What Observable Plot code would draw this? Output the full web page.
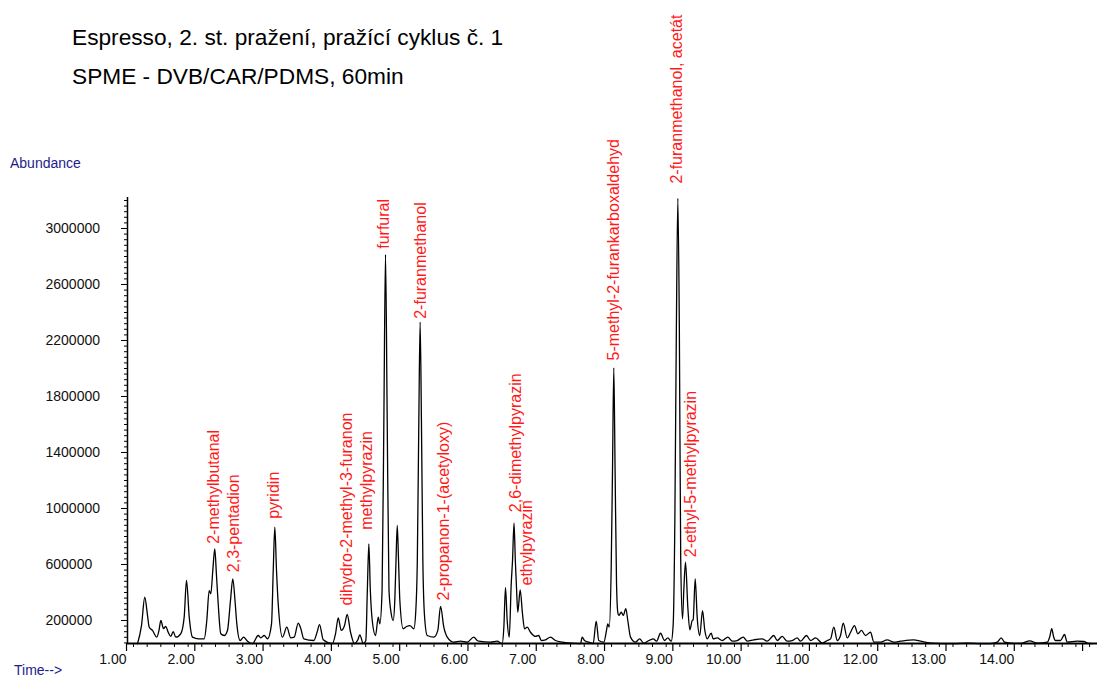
<!DOCTYPE html>
<html><head><meta charset="utf-8">
<script src="https://cdn.jsdelivr.net/npm/d3@7"></script>
<script src="https://cdn.jsdelivr.net/npm/@observablehq/plot@0.6"></script>
<style>
body{margin:0;background:#fff;font-family:"Liberation Sans",Arial,sans-serif;}
#wrap{position:relative;width:1097px;height:677px;overflow:hidden;background:#fff;}
#chart{position:absolute;left:0;top:0;}
.t{position:absolute;white-space:nowrap;line-height:1;}
</style></head><body>
<div id="wrap">
<div id="chart"></div>
<div class="t" style="left:72px;top:26px;font-size:22.7px;color:#000;">Espresso, 2. st. pražení, pražící cyklus č. 1</div>
<div class="t" style="left:72px;top:65px;font-size:22.7px;color:#000;">SPME - DVB/CAR/PDMS, 60min</div>
<div class="t" style="left:10px;top:156px;font-size:14px;color:#1c1c8c;">Abundance</div>
<div class="t" style="left:14px;top:663px;font-size:14px;color:#1c1c8c;">Time--&gt;</div>
</div>
<script>
// Chromatogram trace: [time (min), abundance]
const trace = [
[1.059,35000],[1.117,164000],[1.165,366000],[1.205,236000],[1.230,152000],[1.278,129000],[1.341,81000],[1.373,129000],[1.400,200000],[1.439,143000],
[1.473,157000],[1.508,116000],[1.546,86000],[1.581,121000],[1.619,81000],[1.693,107000],[1.742,224000],[1.776,486000],[1.816,224000],[1.864,81000],
[1.952,69000],[2.035,69000],[2.073,200000],[2.108,414000],[2.132,391000],[2.161,557000],[2.190,712000],[2.215,521000],[2.240,321000],[2.278,105000],
[2.328,93000],[2.376,129000],[2.420,343000],[2.454,498000],[2.486,343000],[2.513,176000],[2.562,57000],[2.611,81000],[2.669,52000],[2.743,35000],
[2.826,93000],[2.864,76000],[2.914,93000],[2.962,69000],[3.021,176000],[3.046,557000],[3.069,866000],[3.094,557000],[3.119,319000],[3.182,81000],
[3.245,152000],[3.303,76000],[3.353,81000],[3.412,181000],[3.445,150000],[3.494,69000],[3.640,57000],[3.687,114000],[3.724,171000],[3.778,62000],
[3.910,35000],[3.958,105000],[3.998,219000],[4.042,129000],[4.090,164000],[4.129,243000],[4.178,116000],[4.236,35000],[4.285,62000],[4.314,98000],
[4.364,35000],[4.402,57000],[4.424,414000],[4.446,748000],[4.468,414000],[4.496,200000],[4.544,93000],[4.584,224000],[4.607,176000],[4.640,414000],
[4.666,1629000],[4.690,2814000],[4.715,1629000],[4.741,414000],[4.774,248000],[4.803,200000],[4.826,343000],[4.844,629000],[4.862,879000],[4.881,629000],
[4.900,343000],[4.949,141000],[4.998,157000],[5.046,164000],[5.105,141000],[5.134,271000],[5.156,629000],[5.178,1629000],[5.197,2331000],[5.216,1629000],
[5.237,629000],[5.261,236000],[5.301,93000],[5.398,81000],[5.456,129000],[5.496,300000],[5.544,152000],[5.594,81000],[5.690,45000],[5.788,52000],
[5.886,45000],[5.983,81000],[6.033,57000],[6.056,52000],[6.228,45000],[6.326,52000],[6.399,35000],[6.423,152000],[6.447,434000],[6.472,200000],
[6.502,81000],[6.531,462000],[6.550,629000],[6.572,895000],[6.591,629000],[6.608,438000],[6.627,259000],[6.662,419000],[6.696,248000],[6.726,141000],
[6.765,152000],[6.813,116000],[6.887,86000],[6.935,93000],[6.970,57000],[7.033,62000],[7.106,81000],[7.179,57000],[7.278,45000],[7.399,38000],
[7.546,35000],[7.570,81000],[7.604,57000],[7.667,45000],[7.731,35000],[7.775,195000],[7.813,57000],[7.887,45000],[7.926,129000],[7.945,176000],
[7.966,152000],[7.995,581000],[8.014,1271000],[8.033,2005000],[8.052,1271000],[8.073,464000],[8.092,257000],[8.107,236000],[8.142,259000],[8.171,236000],
[8.209,284000],[8.238,200000],[8.278,81000],[8.351,45000],[8.410,69000],[8.473,38000],[8.522,50000],[8.610,69000],[8.659,52000],[8.717,109000],
[8.776,57000],[8.824,76000],[8.874,52000],[8.903,176000],[8.927,914000],[8.949,2271000],[8.971,3215000],[8.993,2271000],[9.013,629000],[9.039,212000],
[9.058,414000],[9.083,616000],[9.117,295000],[9.146,134000],[9.181,200000],[9.195,205000],[9.225,498000],[9.254,224000],[9.292,93000],[9.332,271000],
[9.366,129000],[9.401,69000],[9.459,109000],[9.489,69000],[9.547,76000],[9.621,57000],[9.703,81000],[9.767,52000],[9.840,57000],[9.928,81000],
[9.987,52000],[10.083,62000],[10.206,69000],[10.279,52000],[10.376,93000],[10.426,57000],[10.499,86000],[10.572,52000],[10.646,57000],[10.719,76000],
[10.767,52000],[10.855,93000],[10.914,57000],[10.988,76000],[11.085,38000],[11.158,57000],[11.207,69000],[11.255,152000],[11.305,57000],[11.353,93000],
[11.393,181000],[11.451,76000],[11.499,114000],[11.558,164000],[11.606,105000],[11.660,129000],[11.719,93000],[11.792,116000],[11.841,45000],[11.939,45000],
[12.037,62000],[12.134,45000],[12.231,52000],[12.426,62000],[12.525,52000],[12.671,38000],[12.818,35000],[13.008,35000],[13.209,38000],[13.403,35000],
[13.550,35000],[13.648,45000],[13.706,76000],[13.755,45000],[13.843,38000],[13.989,36000],[14.125,55000],[14.233,38000],[14.380,45000],[14.418,86000],
[14.446,141000],[14.472,86000],[14.501,57000],[14.574,57000],[14.633,100000],[14.672,45000],[14.819,52000],[14.916,50000],[14.989,36000],[15.043,35000]
];

// Peak annotations
const peakNames = ["2-methylbutanal","2,3-pentadion","pyridin","dihydro-2-methyl-3-furanon","methylpyrazin","furfural","2-furanmethanol","2-propanon-1-(acetyloxy)","2,6-dimethylpyrazin","ethylpyrazin","5-methyl-2-furankarboxaldehyd","2-furanmethanol, acetát","2-ethyl-5-methylpyrazin"];
const labelTimes = [2.175, 2.469, 3.054, 4.129, 4.422, 4.666, 5.203, 5.544, 6.594, 6.765, 8.033, 8.951, 9.157];
const labelAbund = [748000, 545000, 926000, 307000, 848000, 2855000, 2355000, 343000, 974000, 450000, 2057000, 3321000, 652000];

// Axis ticks
const xTickValues = [1,2,3,4,5,6,7,8,9,10,11,12,13,14,15];
const xTickLabels = ["1.00","2.00","3.00","4.00","5.00","6.00","7.00","8.00","9.00","10.00","11.00","12.00","13.00","14.00",""];
const yTickValues = [200000,600000,1000000,1400000,1800000,2200000,2600000,3000000];
const yTickLabels = ["200000","600000","1000000","1400000","1800000","2200000","2600000","3000000"];

const xDomain = [0.912, 15.116];
const yDomain = [35700, 3221400];

const rows = trace.map(([t, a]) => ({t, a}));
const labels = peakNames.map((name, i) => ({name, t: labelTimes[i], a: labelAbund[i]}));
const xMinor = d3.range(5, 76).map(k => k / 5);
const yMinor = d3.range(1, 81).map(k => k * 40000);

const plot = Plot.plot({
  width: 1097,
  height: 677,
  marginLeft: 127,
  marginRight: 0,
  marginTop: 197,
  marginBottom: 34,
  style: {fontFamily: "'Liberation Sans', Arial, sans-serif", fontSize: "14px", background: "transparent", overflow: "visible"},
  x: {domain: xDomain, axis: null, label: null},
  y: {domain: yDomain, axis: null, label: null},
  marks: [
    Plot.axisX(xMinor, {tickSize: 4, tickFormat: () => "", strokeWidth: 1, label: null}),
    Plot.axisX(xTickValues, {tickSize: 8, tickPadding: 3, strokeWidth: 1.2,
      tickFormat: d => xTickLabels[xTickValues.indexOf(d)], textAnchor: "end", dx: -7,
      fill: "#111", fontSize: 14, label: null}),
    Plot.axisY(yMinor, {tickSize: 3, tickFormat: () => "", label: null}),
    Plot.axisY(yTickValues, {tickSize: 6, tickFormat: () => "", label: null}),
    Plot.text(yTickValues, {y: d => d, text: (d, i) => yTickLabels[i], frameAnchor: "left", dx: -82, textAnchor: "start", fill: "#111", fontSize: 14}),
    Plot.ruleX([xDomain[0]], {stroke: "#000", strokeWidth: 1.5}),
    Plot.ruleY([yDomain[0]], {stroke: "#000", strokeWidth: 2}),
    Plot.line(rows, {x: "t", y: "a", curve: "monotone-x", stroke: "#000", strokeWidth: 1.3}),
    Plot.text(labels, {x: "t", y: "a", text: "name", rotate: -90, textAnchor: "start", fill: "#ff1a1a", fontSize: 16})
  ]
});
document.getElementById("chart").appendChild(plot);
</script>
</body></html>
